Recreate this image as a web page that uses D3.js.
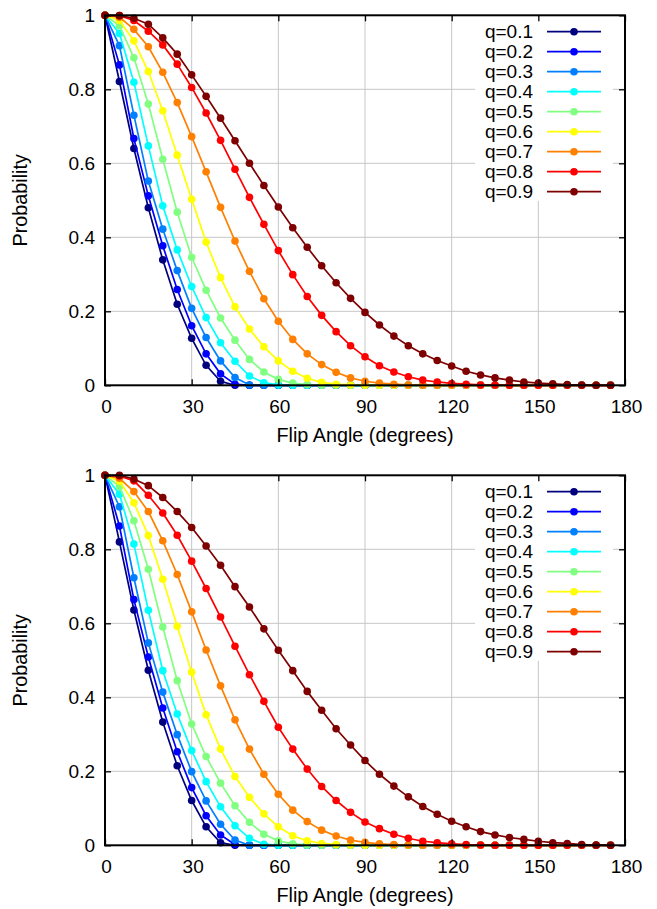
<!DOCTYPE html>
<html><head><meta charset="utf-8">
<script src="https://cdn.jsdelivr.net/npm/d3@7"></script>
<style>
body{margin:0;background:#fff}
svg text{font-family:"Liberation Sans",Arial,Helvetica,sans-serif;fill:#000}
</style>
</head><body>
<svg id="chart" width="657" height="909"></svg>
<script>
// ---------- data ----------
const angles = [0,5,10,15,20,25,30,35,40,45,50,55,60,65,70,75,80,85,90,95,100,105,110,115,120,125,130,135,140,145,150,155,160,165,170,175];
const qLabels = ["q=0.1","q=0.2","q=0.3","q=0.4","q=0.5","q=0.6","q=0.7","q=0.8","q=0.9"];
const seriesColors = ["#00007f","#0000ff","#0080ff","#00ffff","#80ff80","#ffff00","#ff8000","#ff0000","#7f0000"];
const xTicks = [0,30,60,90,120,150,180];
const yTicks = [0,0.2,0.4,0.6,0.8,1];
const xLabel = "Flip Angle (degrees)";
const yLabel = "Probability";

// top panel
const top_q1 = [1,0.821,0.64,0.48,0.339,0.219,0.127,0.054,0.011,0,0,0,0,0,0,0,0,0,0,0,0,0,0,0,0,0,0,0,0,0,0,0,0,0,0,0];
const top_q2 = [1,0.866,0.667,0.512,0.377,0.259,0.161,0.085,0.031,0.003,0,0,0,0,0,0,0,0,0,0,0,0,0,0,0,0,0,0,0,0,0,0,0,0,0,0];
const top_q3 = [1,0.918,0.73,0.552,0.422,0.31,0.208,0.129,0.066,0.021,0.001,0,0,0,0,0,0,0,0,0,0,0,0,0,0,0,0,0,0,0,0,0,0,0,0,0];
const top_q4 = [1,0.951,0.819,0.647,0.485,0.366,0.267,0.183,0.115,0.065,0.025,0.007,0.001,0,0,0,0,0,0,0,0,0,0,0,0,0,0,0,0,0,0,0,0,0,0,0];
const top_q5 = [1,0.972,0.885,0.76,0.611,0.468,0.346,0.257,0.182,0.122,0.07,0.036,0.016,0.006,0.002,0,0,0,0,0,0,0,0,0,0,0,0,0,0,0,0,0,0,0,0,0];
const top_q6 = [1,0.986,0.931,0.848,0.742,0.622,0.503,0.387,0.291,0.212,0.152,0.104,0.066,0.038,0.019,0.008,0.003,0.001,0,0,0,0,0,0,0,0,0,0,0,0,0,0,0,0,0,0];
const top_q7 = [1,0.995,0.962,0.915,0.846,0.764,0.672,0.577,0.481,0.39,0.308,0.234,0.173,0.124,0.085,0.056,0.035,0.02,0.011,0.006,0.003,0.001,0,0,0,0,0,0,0,0,0,0,0,0,0,0];
const top_q8 = [1,0.999,0.986,0.957,0.92,0.868,0.805,0.736,0.662,0.584,0.508,0.435,0.364,0.299,0.24,0.189,0.145,0.107,0.077,0.053,0.036,0.023,0.014,0.009,0.005,0.003,0.001,0.001,0,0,0,0,0,0,0,0];
const top_q9 = [1,0.999,0.992,0.976,0.939,0.895,0.839,0.781,0.722,0.661,0.6,0.54,0.482,0.426,0.373,0.323,0.277,0.235,0.197,0.163,0.133,0.107,0.085,0.067,0.052,0.038,0.028,0.02,0.014,0.009,0.006,0.004,0.002,0.001,0,0];

// bottom panel
const bot_q1 = [1,0.82,0.636,0.473,0.333,0.215,0.121,0.05,0.007,0,0,0,0,0,0,0,0,0,0,0,0,0,0,0,0,0,0,0,0,0,0,0,0,0,0,0];
const bot_q2 = [1,0.863,0.664,0.509,0.371,0.253,0.156,0.08,0.028,0.002,0,0,0,0,0,0,0,0,0,0,0,0,0,0,0,0,0,0,0,0,0,0,0,0,0,0];
const bot_q3 = [1,0.915,0.723,0.547,0.414,0.299,0.199,0.12,0.057,0.014,0,0,0,0,0,0,0,0,0,0,0,0,0,0,0,0,0,0,0,0,0,0,0,0,0,0];
const bot_q4 = [1,0.949,0.814,0.635,0.472,0.355,0.256,0.172,0.104,0.053,0.019,0.003,0,0,0,0,0,0,0,0,0,0,0,0,0,0,0,0,0,0,0,0,0,0,0,0];
const bot_q5 = [1,0.97,0.877,0.746,0.59,0.445,0.328,0.24,0.168,0.107,0.062,0.03,0.012,0.004,0.001,0,0,0,0,0,0,0,0,0,0,0,0,0,0,0,0,0,0,0,0,0];
const bot_q6 = [1,0.984,0.926,0.837,0.719,0.592,0.468,0.353,0.26,0.186,0.13,0.085,0.05,0.026,0.012,0.005,0.002,0.001,0,0,0,0,0,0,0,0,0,0,0,0,0,0,0,0,0,0];
const bot_q7 = [1,0.992,0.956,0.902,0.823,0.732,0.631,0.528,0.431,0.339,0.26,0.192,0.138,0.095,0.064,0.041,0.025,0.014,0.008,0.004,0.002,0.001,0,0,0,0,0,0,0,0,0,0,0,0,0,0];
const bot_q8 = [1,0.998,0.985,0.946,0.898,0.838,0.768,0.694,0.617,0.538,0.461,0.389,0.319,0.26,0.206,0.159,0.121,0.089,0.063,0.045,0.03,0.019,0.011,0.007,0.004,0.002,0.001,0,0,0,0,0,0,0,0,0];
const bot_q9 = [1,1,0.99,0.972,0.94,0.902,0.859,0.809,0.757,0.699,0.644,0.585,0.527,0.472,0.416,0.365,0.315,0.271,0.229,0.192,0.16,0.131,0.105,0.084,0.065,0.05,0.037,0.028,0.021,0.016,0.011,0.007,0.005,0.002,0.001,0];

const topPanel = [top_q1,top_q2,top_q3,top_q4,top_q5,top_q6,top_q7,top_q8,top_q9];
const bottomPanel = [bot_q1,bot_q2,bot_q3,bot_q4,bot_q5,bot_q6,bot_q7,bot_q8,bot_q9];

// ---------- drawing ----------
const svg = d3.select("#chart");
const FS = 19;
const FS_TITLE = 19.8;
const R_DOT = 3.8;
const LW = 1.7;

function drawPanel(series, offY) {
  const L = 105, R = 625, T = 15.3 + offY, B = 385.3 + offY;
  const x = d3.scaleLinear().domain([0,180]).range([L,R]);
  const y = d3.scaleLinear().domain([0,1]).range([B,T]);
  const g = svg.append("g");

  // grid
  const grid = g.append("g").attr("stroke","#c6c6c6").attr("stroke-width",1);
  grid.selectAll(".gx").data(xTicks.filter(d=>d>0&&d<180)).join("line")
    .attr("x1",d=>x(d)).attr("x2",d=>x(d)).attr("y1",T).attr("y2",B);
  grid.selectAll(".gy").data(yTicks.filter(d=>d>0&&d<1)).join("line")
    .attr("y1",d=>y(d)).attr("y2",d=>y(d)).attr("x1",L).attr("x2",R);

  // legend background
  g.append("rect").attr("x",475).attr("y",T+0.5).attr("width",138).attr("height",185).attr("fill","#fff");

  // data
  const line = d3.line().x((d,i)=>x(angles[i])).y(d=>y(d));
  series.forEach((vals,k)=>{
    const sg = g.append("g");
    sg.append("path").datum(vals).attr("d",line)
      .attr("fill","none").attr("stroke",seriesColors[k]).attr("stroke-width",LW);
    sg.selectAll("circle").data(vals).join("circle")
      .attr("cx",(d,i)=>x(angles[i])).attr("cy",d=>y(d)).attr("r",R_DOT)
      .attr("fill",seriesColors[k]);
  });

  // legend entries
  const lg = g.append("g");
  qLabels.forEach((lab,k)=>{
    const cy = T + 16.4 + 20*k;
    lg.append("text").attr("x",533).attr("y",cy).attr("dy","0.35em")
      .attr("text-anchor","end").attr("font-size",FS).text(lab);
    lg.append("line").attr("x1",547).attr("x2",601).attr("y1",cy).attr("y2",cy)
      .attr("stroke",seriesColors[k]).attr("stroke-width",LW);
    lg.append("circle").attr("cx",574).attr("cy",cy).attr("r",R_DOT).attr("fill",seriesColors[k]);
  });

  // axes
  const ax = g.append("g").attr("transform",`translate(0,${B})`)
    .call(d3.axisBottom(x).tickValues(xTicks).tickSizeInner(-6).tickSizeOuter(0).tickPadding(13.8).tickFormat(d3.format("d")));
  const ay = g.append("g").attr("transform",`translate(${L},0)`)
    .call(d3.axisLeft(y).tickValues(yTicks).tickSizeInner(-6).tickSizeOuter(0).tickPadding(10).tickFormat(d=>String(d)));
  const at = g.append("g").attr("transform",`translate(0,${T})`)
    .call(d3.axisTop(x).tickValues(xTicks).tickSizeInner(-6).tickSizeOuter(0).tickFormat(""));
  const ar = g.append("g").attr("transform",`translate(${R},0)`)
    .call(d3.axisRight(y).tickValues(yTicks).tickSizeInner(-6).tickSizeOuter(0).tickFormat(""));
  [ax,ay,at,ar].forEach(a=>{
    a.select(".domain").remove();
    a.selectAll(".tick line").attr("stroke","#000").attr("stroke-width",1.3);
    a.selectAll("text").attr("font-size",FS).attr("font-family",'"Liberation Sans",Arial,sans-serif').attr("fill","#000");
  });
  ax.selectAll("text").attr("dx","1");

  // border
  g.append("rect").attr("x",L).attr("y",T).attr("width",R-L).attr("height",B-T)
    .attr("fill","none").attr("stroke","#000").attr("stroke-width",2);

  // axis titles
  g.append("text").attr("x",(L+R)/2).attr("y",B+56.4).attr("text-anchor","middle")
    .attr("font-size",FS_TITLE).text(xLabel);
  g.append("text").attr("transform",`translate(26.5,${(T+B)/2}) rotate(-90)`)
    .attr("text-anchor","middle").attr("font-size",FS_TITLE).text(yLabel);
}

drawPanel(topPanel, 0);
drawPanel(bottomPanel, 460);
</script>
</body></html>
